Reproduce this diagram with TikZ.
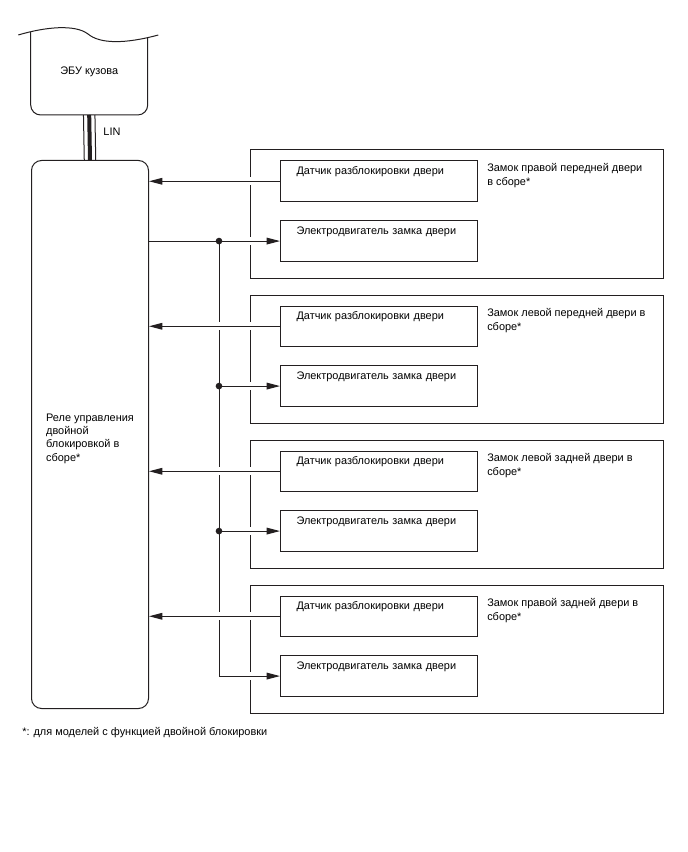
\documentclass[tikz,border=0pt]{standalone}
\usepackage{fontspec}
\setmainfont{Liberation Sans}
\usetikzlibrary{arrows.meta,positioning}
\definecolor{wirecol}{RGB}{35,31,32}

\begin{document}
\begin{tikzpicture}[
  x=0.75pt, y=-0.75pt,
  every node/.style={font=\fontsize{8.2pt}{10pt}\selectfont},
  relaybox/.style={rectangle, draw=wirecol, line width=0.75pt, rounded corners=7.5pt, align=left, minimum width=87.75pt, minimum height=411pt, anchor=north west},
  door/.style={rectangle, draw=wirecol, line width=0.75pt, minimum width=309.75pt, minimum height=96pt, anchor=north west},
  part/.style={rectangle, draw=wirecol, line width=0.75pt, text width=123.5pt, align=left, inner xsep=12pt, inner ysep=3pt, text height=7pt, text depth=17.4pt, anchor=north west},
  doorlbl/.style={align=left, inner sep=0pt, anchor=north west},
  wire/.style={draw=wirecol, line width=0.75pt},
  arrow/.style={wire, -{Triangle[length=10pt, width=5pt]}, preaction={draw=white, line width=6pt, -, shorten <=1.5pt, shorten >=1.5pt}},
  dot/.style={circle, fill=wirecol, inner sep=0pt, minimum size=5pt},
]
\useasboundingbox (0,0) rectangle (688,852);

% body ECU
\node[minimum width=87pt, minimum height=64.5pt, anchor=south] (ecu) at (89.2,115) {ЭБУ кузова};
\draw[wire] (18.3,35) .. controls (45,27) and (75,24) .. (88,34) .. controls (100,44) and (125,44) .. (158.3,35);
\draw[wire, rounded corners=7.5pt] (30.7,31.8) -- (30.7,115) -- (147.7,115) -- (147.7,37.4);

\node[relaybox] (relay) at (31,160) {\rule{0pt}{11.5pt}Реле управления\\двойной\\блокировкой в\\сборе*};

% LIN bus
\draw[wire] ([xshift=-4.3pt]ecu.south) -- ([xshift=-4.3pt]relay.north);
\draw[wire, line width=3pt] (ecu.south) -- (relay.north);
\draw[wire] ([xshift=4.3pt]ecu.south) -- ([xshift=4.3pt]relay.north);
\node (lin) at (112,132) {LIN};

% door lock assemblies
\node[door] (door1) at (250,149.5) {};
\node[door, below=12pt of door1] (door2) {};
\node[door, below=12pt of door2] (door3) {};
\node[door, below=12pt of door3] (door4) {};

\node[part] (sens1) at ([xshift=22.5pt, yshift=-8.25pt]door1.north west) {Датчик разблокировки двери};
\node[part, below=13.7pt of sens1] (motor1) {Электродвигатель замка двери};
\node[doorlbl] (lbl1) at ([xshift=177.75pt, yshift=-10.5pt]door1.north west) {Замок правой передней двери\\в сборе*};

\node[part] (sens2) at ([xshift=22.5pt, yshift=-8.25pt]door2.north west) {Датчик разблокировки двери};
\node[part, below=13.7pt of sens2] (motor2) {Электродвигатель замка двери};
\node[doorlbl] (lbl2) at ([xshift=177.75pt, yshift=-10.5pt]door2.north west) {Замок левой передней двери в\\сборе*};

\node[part] (sens3) at ([xshift=22.5pt, yshift=-8.25pt]door3.north west) {Датчик разблокировки двери};
\node[part, below=13.7pt of sens3] (motor3) {Электродвигатель замка двери};
\node[doorlbl] (lbl3) at ([xshift=177.75pt, yshift=-10.5pt]door3.north west) {Замок левой задней двери в\\сборе*};

\node[part] (sens4) at ([xshift=22.5pt, yshift=-8.25pt]door4.north west) {Датчик разблокировки двери};
\node[part, below=13.7pt of sens4] (motor4) {Электродвигатель замка двери};
\node[doorlbl] (lbl4) at ([xshift=177.75pt, yshift=-10.5pt]door4.north west) {Замок правой задней двери в\\сборе*};

% motor feed
\coordinate (busx) at (219,0);
\coordinate (j1) at (busx |- motor1.west);
\coordinate (j2) at (busx |- motor2.west);
\coordinate (j3) at (busx |- motor3.west);
\draw[arrow] (motor1.west -| relay.east) -- (motor1.west);
\draw[arrow] (j1) |- (motor4.west);
\draw[arrow] (j2) -- (motor2.west);
\draw[arrow] (j3) -- (motor3.west);

% unlock sensors
\draw[arrow] (sens1.west) -- (sens1.west -| relay.east);
\draw[arrow] (sens2.west) -- (sens2.west -| relay.east);
\draw[arrow] (sens3.west) -- (sens3.west -| relay.east);
\draw[arrow] (sens4.west) -- (sens4.west -| relay.east);

\node[dot] at (j1) {};
\node[dot] at (j2) {};
\node[dot] at (j3) {};

\node[anchor=base west, inner sep=0pt] (note) at (22,735) {*: для моделей с функцией двойной блокировки};
\end{tikzpicture}
\end{document}
